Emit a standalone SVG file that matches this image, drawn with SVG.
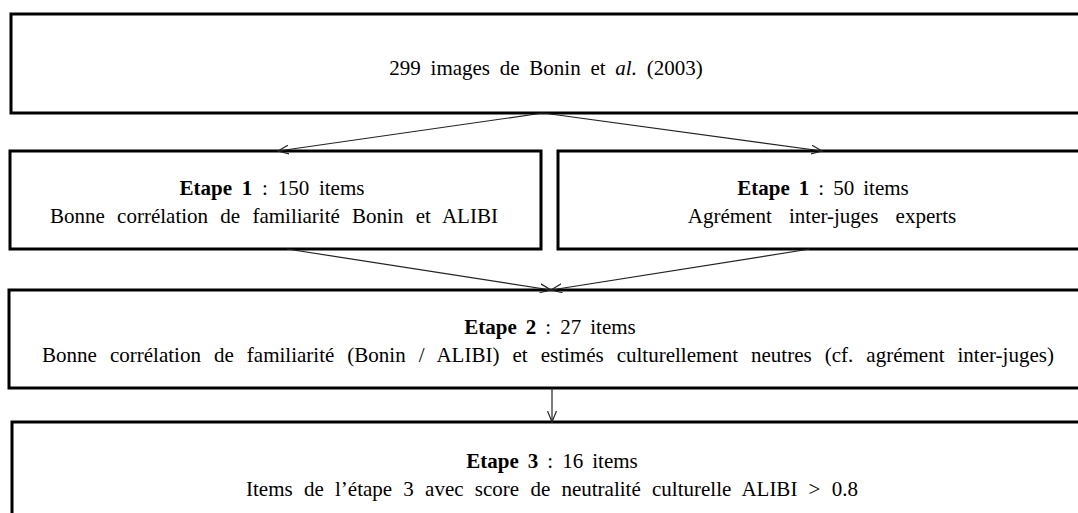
<svg xmlns="http://www.w3.org/2000/svg" width="1078" height="513" viewBox="0 0 1078 513">
<defs>
<style>
.box{fill:#fff;stroke:#000;stroke-width:3}
.t{font-family:"Liberation Serif","Times New Roman",serif;font-size:21px;fill:#000;text-anchor:middle}
.b{font-weight:bold}
.c{fill:none;stroke:#222;stroke-width:1.2}
</style>
<marker id="ah" viewBox="0 0 12 10" refX="11" refY="5" markerWidth="12" markerHeight="10" markerUnits="userSpaceOnUse" orient="auto">
<path d="M0,0.5 L11,5 L0,9.5" fill="none" stroke="#222" stroke-width="1.2"/>
</marker>
</defs>
<rect width="1078" height="513" fill="#fff"/>
<g id="n0">
<rect class="box" x="11" y="14" width="1075" height="99"/>
<text class="t" x="546" y="75" style="word-spacing:4.5px">299 images de Bonin et <tspan font-style="italic">al.</tspan> (2003)</text>
</g>
<g id="n1">
<rect class="box" x="10" y="151" width="531" height="98"/>
<text class="t" x="272" y="195" style="word-spacing:4.5px"><tspan class="b">Etape 1</tspan> : 150 items</text>
<text class="t" x="274" y="223" style="word-spacing:7px">Bonne corrélation de familiarité Bonin et ALIBI</text>
</g>
<g id="n2">
<rect class="box" x="558" y="151" width="530" height="98"/>
<text class="t" x="823" y="195" style="word-spacing:3.8px"><tspan class="b">Etape 1</tspan> : 50 items</text>
<text class="t" x="822" y="223" style="word-spacing:12px">Agrément inter-juges experts</text>
</g>
<g id="n3">
<rect class="box" x="9" y="290" width="1082" height="98"/>
<text class="t" x="550" y="334" style="word-spacing:3.8px"><tspan class="b">Etape 2</tspan> : 27 items</text>
<text class="t" x="548" y="362" style="word-spacing:7.8px">Bonne corrélation de familiarité (Bonin / ALIBI) et estimés culturellement neutres (cf. agrément inter-juges)</text>
</g>
<g id="n4">
<rect class="box" x="12" y="422" width="1080" height="110"/>
<text class="t" x="552" y="468" style="word-spacing:3.8px"><tspan class="b">Etape 3</tspan> : 16 items</text>
<text class="t" x="552" y="496" style="word-spacing:6px">Items de l’étape 3 avec score de neutralité culturelle ALIBI &gt; 0.8</text>
</g>
<g id="connectors">
<line class="c" x1="543" y1="113" x2="278" y2="151" marker-end="url(#ah)"/>
<line class="c" x1="543" y1="113" x2="822" y2="151" marker-end="url(#ah)"/>
<line class="c" x1="287" y1="249" x2="551" y2="290" marker-end="url(#ah)"/>
<line class="c" x1="810" y1="249" x2="551" y2="290" marker-end="url(#ah)"/>
<line class="c" x1="552" y1="388" x2="552" y2="422" marker-end="url(#ah)"/>
</g>
</svg>
